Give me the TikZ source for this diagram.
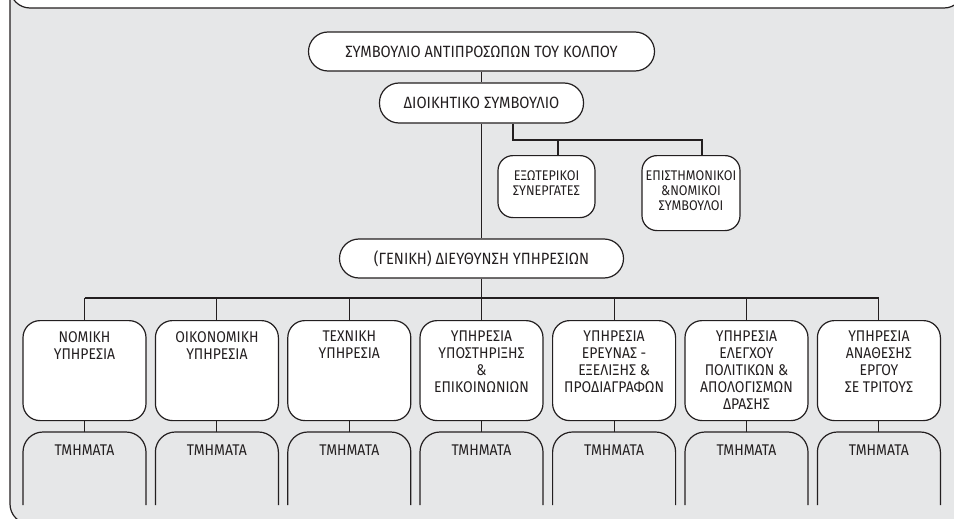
\documentclass[tikz,border=0pt]{standalone}
\usepackage{fontspec}
\setmainfont{Fira Sans}[FakeStretch=0.9]
\definecolor{bgc}{HTML}{E6E7E8}
\definecolor{lc}{HTML}{231F20}
\begin{document}
\begin{tikzpicture}[x=1pt,y=-1pt,
  line/.style={draw=lc, line width=1.2pt},
  conn/.style={draw=lc, line width=1.1pt},
  pill/.style={line, fill=white, rounded corners=19.5pt, inner sep=0pt, minimum height=39pt,
    text=lc, font=\fontsize{16.3}{17}\selectfont},
  svcbox/.style={line, fill=white, rounded corners=17pt, inner sep=0pt, minimum width=123pt,
    minimum height=100pt, anchor=north},
  extbox/.style={line, fill=white, rounded corners=15pt, inner sep=0pt, anchor=north},
  svctext/.style={anchor=north, align=center, inner sep=0pt, text=lc, font=\fontsize{15.5}{17}\selectfont},
  exttext/.style={anchor=north, align=center, inner sep=0pt, text=lc, font=\fontsize{14}{15}\selectfont},
  tmtext/.style={anchor=base, inner sep=0pt, text=lc, font=\fontsize{15.5}{17}\selectfont}]
\useasboundingbox (0,0) rectangle (954,519);
% frame and header
\draw[line, fill=bgc, rounded corners=20pt] (10,-40) rectangle (964,524);
\draw[line, fill=white, rounded corners=20pt] (10,-40) rectangle (964,8);
% top nodes
\node[pill, minimum width=346pt] (top) at (481.5,51.5) {ΣΥΜΒΟΥΛΙΟ ΑΝΤΙΠΡΟΣΩΠΩΝ ΤΟΥ ΚΟΛΠΟΥ};
\node[pill, minimum width=204pt, minimum height=40pt] (dio) at (481.5,103) {ΔΙΟΙΚΗΤΙΚΟ ΣΥΜΒΟΥΛΙΟ};
\node[pill, minimum width=284pt] (gen) at (481.5,258.5) {(ΓΕΝΙΚΗ) ΔΙΕΥΘΥΝΣΗ ΥΠΗΡΕΣΙΩΝ};
% advisory boxes
\node[extbox, minimum width=97pt, minimum height=62pt] (ext1) at (546.5,155) {};
\node[exttext] (ext1t) at ([yshift=-15pt]ext1.north) {ΕΞΩΤΕΡΙΚΟΙ\\ΣΥΝΕΡΓΑΤΕΣ};
\node[extbox, minimum width=98pt, minimum height=75pt] (ext2) at (691,155) {};
\node[exttext] (ext2t) at ([yshift=-15pt]ext2.north) {ΕΠΙΣΤΗΜΟΝΙΚΟΙ\\\&ΝΟΜΙΚΟΙ\\ΣΥΜΒΟΥΛΟΙ};
% connectors of the upper part
\draw[conn] (top.south) -- (dio.north);
\draw[conn] (dio.south) -- (gen.north);
\coordinate (b0) at (513,140);
\coordinate (b1) at (558,140);
\coordinate (b2) at (702,140);
\draw[conn] (b0 |- dio.south) -- (b0) -- (b2) -- (b2 |- ext2.north);
\draw[conn] (b1) -- (b1 |- ext1.north);
% bus
\coordinate (bus) at (481.5,298);
\draw[conn] (gen.south) -- (bus);
% service boxes
\foreach \i/\cx/\t in {
  1/84.5/{ΝΟΜΙΚΗ\\ΥΠΗΡΕΣΙΑ},
  2/216.9/{ΟΙΚΟΝΟΜΙΚΗ\\ΥΠΗΡΕΣΙΑ},
  3/349.3/{ΤΕΧΝΙΚΗ\\ΥΠΗΡΕΣΙΑ},
  4/481.5/{ΥΠΗΡΕΣΙΑ\\ΥΠΟΣΤΗΡΙΞΗΣ\\\&\\ΕΠΙΚΟΙΝΩΝΙΩΝ},
  5/614.1/{ΥΠΗΡΕΣΙΑ\\ΕΡΕΥΝΑΣ -\\ΕΞΕΛΙΞΗΣ \&\\ΠΡΟΔΙΑΓΡΑΦΩΝ},
  6/746.5/{ΥΠΗΡΕΣΙΑ\\ΕΛΕΓΧΟΥ\\ΠΟΛΙΤΙΚΩΝ \&\\ΑΠΟΛΟΓΙΣΜΩΝ\\ΔΡΑΣΗΣ},
  7/878.9/{ΥΠΗΡΕΣΙΑ\\ΑΝΑΘΕΣΗΣ\\ΕΡΓΟΥ\\ΣΕ ΤΡΙΤΟΥΣ}} {
  \node[svcbox] (s\i) at (\cx,320) {};
  \node[svctext] (s\i t) at ([yshift=-11pt]s\i.north) {\t};
  \coordinate (d\i) at (\cx,298);
  \coordinate (m\i) at (\cx,432);
  \draw[conn] (d\i) -- (s\i.north);
  \draw[conn] (s\i.south) -- (m\i);
  \draw[line, rounded corners=20pt] ([xshift=-61.5pt]m\i |- 0,505) -- ([xshift=-61.5pt]m\i) -- ([xshift=61.5pt]m\i) -- ([xshift=61.5pt]m\i |- 0,505);
  \node[tmtext] (tm\i) at (\cx,455) {ΤΜΗΜΑΤΑ};
}
\draw[conn] (d1) -- (d7);
\end{tikzpicture}
\end{document}
